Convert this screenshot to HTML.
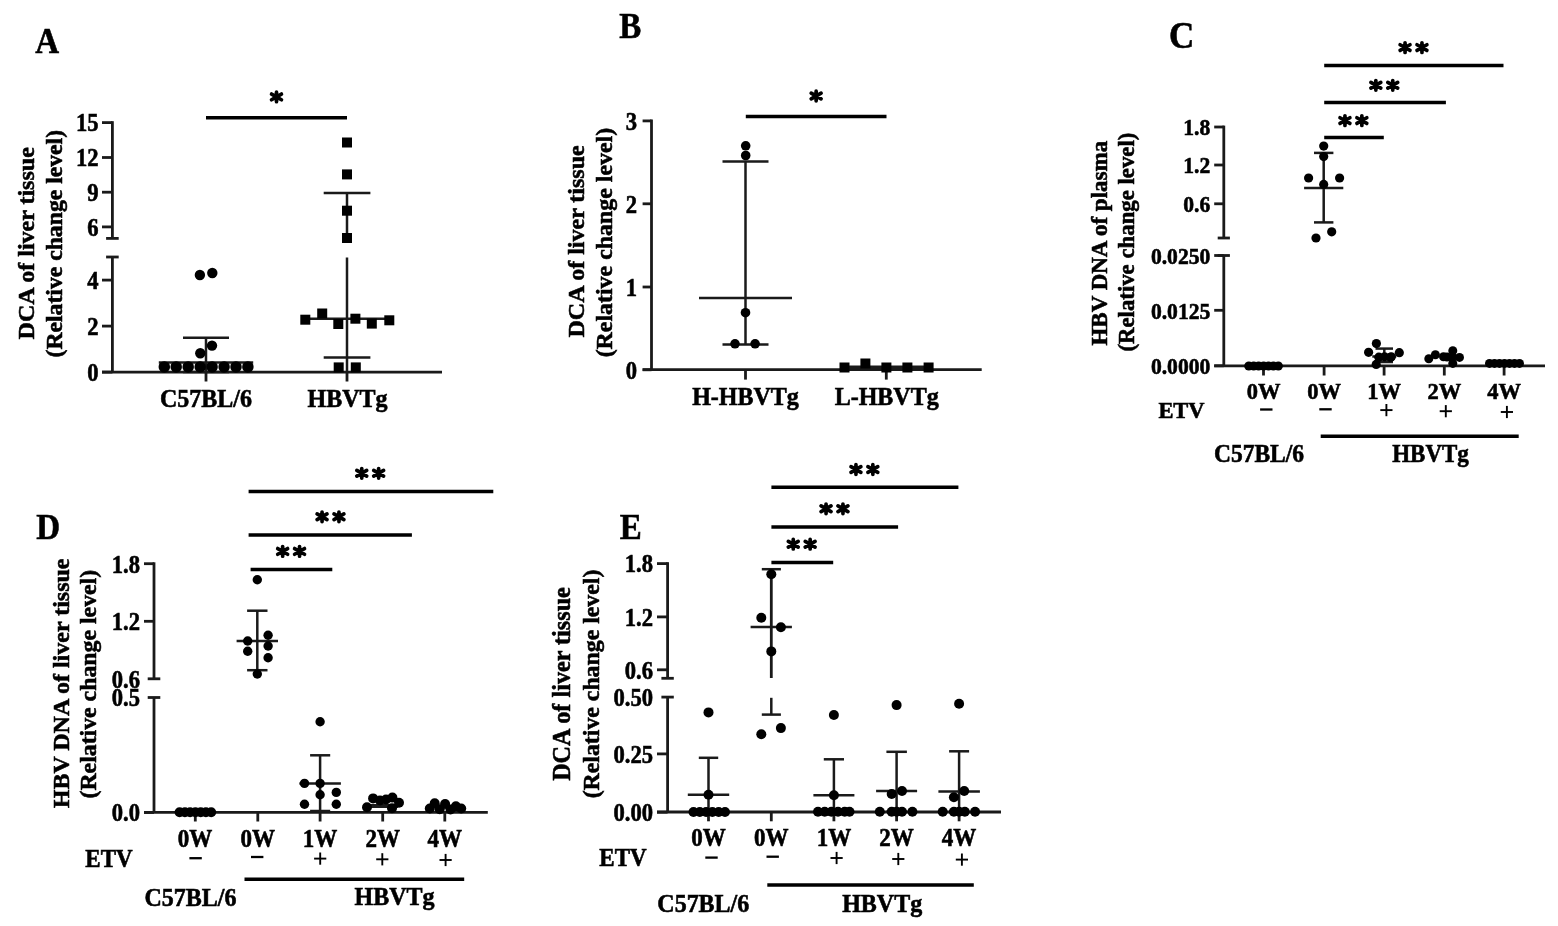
<!DOCTYPE html>
<html><head><meta charset="utf-8"><style>
html,body{margin:0;padding:0;background:#fff;}
svg{display:block;filter:blur(0.6px);}
text{font-family:"Liberation Serif",serif;font-weight:bold;fill:#000;stroke:#000;stroke-width:0.55px;}
circle,rect.s{fill:#000;}
</style></head><body>
<svg width="1558" height="926" viewBox="0 0 1558 926">
<rect x="0" y="0" width="1558" height="926" fill="#fff"/>
<text transform="translate(35.3,52.5) scale(1,1.06)" font-size="33" text-anchor="start">A</text>
<line x1="112.4" y1="121.2" x2="112.4" y2="238.4" stroke="#1a1a1a" stroke-width="2.8"/>
<line x1="112.4" y1="257.0" x2="112.4" y2="372.2" stroke="#1a1a1a" stroke-width="2.8"/>
<line x1="106.1" y1="238.4" x2="118.7" y2="238.4" stroke="#1a1a1a" stroke-width="2.8"/>
<line x1="106.1" y1="257.0" x2="118.7" y2="257.0" stroke="#1a1a1a" stroke-width="2.8"/>
<line x1="102.0" y1="122.6" x2="112.4" y2="122.6" stroke="#1a1a1a" stroke-width="2.8"/>
<text transform="translate(98.5,131.4) scale(1,1.1)" font-size="22.6" text-anchor="end">15</text>
<line x1="102.0" y1="157.5" x2="112.4" y2="157.5" stroke="#1a1a1a" stroke-width="2.8"/>
<text transform="translate(98.5,166.3) scale(1,1.1)" font-size="22.6" text-anchor="end">12</text>
<line x1="102.0" y1="192.2" x2="112.4" y2="192.2" stroke="#1a1a1a" stroke-width="2.8"/>
<text transform="translate(98.5,201.0) scale(1,1.1)" font-size="22.6" text-anchor="end">9</text>
<line x1="102.0" y1="226.9" x2="112.4" y2="226.9" stroke="#1a1a1a" stroke-width="2.8"/>
<text transform="translate(98.5,235.7) scale(1,1.1)" font-size="22.6" text-anchor="end">6</text>
<line x1="102.0" y1="280.1" x2="112.4" y2="280.1" stroke="#1a1a1a" stroke-width="2.8"/>
<text transform="translate(98.5,288.9) scale(1,1.1)" font-size="22.6" text-anchor="end">4</text>
<line x1="102.0" y1="326.1" x2="112.4" y2="326.1" stroke="#1a1a1a" stroke-width="2.8"/>
<text transform="translate(98.5,334.9) scale(1,1.1)" font-size="22.6" text-anchor="end">2</text>
<line x1="102.0" y1="372.1" x2="112.4" y2="372.1" stroke="#1a1a1a" stroke-width="2.8"/>
<text transform="translate(98.5,380.9) scale(1,1.1)" font-size="22.6" text-anchor="end">0</text>
<line x1="102.0" y1="372.1" x2="442.0" y2="372.1" stroke="#1a1a1a" stroke-width="2.8"/>
<line x1="206.0" y1="372.2" x2="206.0" y2="381.5" stroke="#1a1a1a" stroke-width="2.8"/>
<line x1="347.0" y1="372.2" x2="347.0" y2="381.5" stroke="#1a1a1a" stroke-width="2.8"/>
<text transform="translate(206.0,407.0) scale(1,1.06)" font-size="24" text-anchor="middle">C57BL/6</text>
<text transform="translate(347.6,407.0) scale(1,1.06)" font-size="24" text-anchor="middle">HBVTg</text>
<text transform="translate(34.0,243.3) rotate(-90)" font-size="24" text-anchor="middle">DCA of liver tissue</text>
<text transform="translate(62.0,243.7) rotate(-90)" font-size="23.7" text-anchor="middle">(Relative change level)</text>
<line x1="206.0" y1="117.8" x2="347.0" y2="117.8" stroke="#000" stroke-width="3.5"/>
<path d="M276.50,92.10L276.50,101.70M271.56,94.05L281.44,99.75M281.44,94.05L271.56,99.75" stroke="#000" stroke-width="3.7" stroke-linecap="round" fill="none"/>
<line x1="183.0" y1="337.8" x2="229.0" y2="337.8" stroke="#1a1a1a" stroke-width="2.5"/>
<line x1="183.0" y1="372.0" x2="229.0" y2="372.0" stroke="#1a1a1a" stroke-width="2.5"/>
<line x1="158.8" y1="362.6" x2="253.2" y2="362.6" stroke="#1a1a1a" stroke-width="2.5"/>
<line x1="206.0" y1="337.8" x2="206.0" y2="372.0" stroke="#1a1a1a" stroke-width="2.5"/>
<circle cx="199.9" cy="275.0" r="5.2"/>
<circle cx="212.3" cy="273.0" r="5.2"/>
<circle cx="212.0" cy="345.6" r="5.2"/>
<circle cx="200.3" cy="353.2" r="5.2"/>
<circle cx="164.3" cy="366.9" r="5.75"/>
<circle cx="176.2" cy="366.9" r="5.75"/>
<circle cx="188.2" cy="366.9" r="5.75"/>
<circle cx="200.2" cy="366.9" r="5.75"/>
<circle cx="212.1" cy="366.9" r="5.75"/>
<circle cx="224.1" cy="366.9" r="5.75"/>
<circle cx="236.0" cy="366.9" r="5.75"/>
<circle cx="247.9" cy="366.9" r="5.75"/>
<line x1="323.7" y1="192.9" x2="370.4" y2="192.9" stroke="#1a1a1a" stroke-width="2.5"/>
<line x1="323.7" y1="357.6" x2="370.4" y2="357.6" stroke="#1a1a1a" stroke-width="2.5"/>
<line x1="301.0" y1="318.7" x2="392.8" y2="318.7" stroke="#1a1a1a" stroke-width="2.5"/>
<line x1="347.0" y1="192.9" x2="347.0" y2="238.4" stroke="#1a1a1a" stroke-width="2.5"/>
<line x1="347.0" y1="257.5" x2="347.0" y2="372.0" stroke="#1a1a1a" stroke-width="2.5"/>
<rect class="s" x="342.0" y="137.5" width="10" height="10"/>
<rect class="s" x="342.0" y="169.4" width="10" height="10"/>
<rect class="s" x="342.0" y="205.7" width="10" height="10"/>
<rect class="s" x="342.0" y="233.0" width="10" height="10"/>
<rect class="s" x="300.3" y="314.7" width="10" height="10"/>
<rect class="s" x="317.2" y="308.5" width="10" height="10"/>
<rect class="s" x="333.3" y="319.0" width="10" height="10"/>
<rect class="s" x="350.4" y="313.7" width="10" height="10"/>
<rect class="s" x="366.8" y="318.6" width="10" height="10"/>
<rect class="s" x="384.3" y="315.3" width="10" height="10"/>
<rect class="s" x="333.7" y="362.4" width="10" height="10"/>
<rect class="s" x="350.8" y="362.4" width="10" height="10"/>
<text transform="translate(619.2,37.8) scale(1,1.06)" font-size="33" text-anchor="start">B</text>
<line x1="651.5" y1="119.5" x2="651.5" y2="369.8" stroke="#1a1a1a" stroke-width="2.8"/>
<line x1="642.6" y1="120.9" x2="651.5" y2="120.9" stroke="#1a1a1a" stroke-width="2.8"/>
<text transform="translate(637.0,129.7) scale(1,1.1)" font-size="22.6" text-anchor="end">3</text>
<line x1="642.6" y1="203.8" x2="651.5" y2="203.8" stroke="#1a1a1a" stroke-width="2.8"/>
<text transform="translate(637.0,212.6) scale(1,1.1)" font-size="22.6" text-anchor="end">2</text>
<line x1="642.6" y1="287.0" x2="651.5" y2="287.0" stroke="#1a1a1a" stroke-width="2.8"/>
<text transform="translate(637.0,295.8) scale(1,1.1)" font-size="22.6" text-anchor="end">1</text>
<line x1="642.6" y1="369.8" x2="651.5" y2="369.8" stroke="#1a1a1a" stroke-width="2.8"/>
<text transform="translate(637.0,378.6) scale(1,1.1)" font-size="22.6" text-anchor="end">0</text>
<line x1="642.6" y1="369.7" x2="981.7" y2="369.7" stroke="#1a1a1a" stroke-width="2.8"/>
<line x1="745.5" y1="369.7" x2="745.5" y2="379.6" stroke="#1a1a1a" stroke-width="2.8"/>
<line x1="886.3" y1="369.7" x2="886.3" y2="379.6" stroke="#1a1a1a" stroke-width="2.8"/>
<text transform="translate(745.5,405.0) scale(1,1.06)" font-size="24" text-anchor="middle">H-HBVTg</text>
<text transform="translate(886.7,405.0) scale(1,1.06)" font-size="24" text-anchor="middle">L-HBVTg</text>
<text transform="translate(583.7,241.4) rotate(-90)" font-size="24" text-anchor="middle">DCA of liver tissue</text>
<text transform="translate(611.6,242.6) rotate(-90)" font-size="23.9" text-anchor="middle">(Relative change level)</text>
<line x1="745.8" y1="116.5" x2="886.5" y2="116.5" stroke="#000" stroke-width="3.5"/>
<path d="M816.15,91.20L816.15,100.80M811.21,93.15L821.09,98.85M821.09,93.15L811.21,98.85" stroke="#000" stroke-width="3.7" stroke-linecap="round" fill="none"/>
<line x1="722.5" y1="161.6" x2="768.5" y2="161.6" stroke="#1a1a1a" stroke-width="2.5"/>
<line x1="722.5" y1="344.6" x2="768.5" y2="344.6" stroke="#1a1a1a" stroke-width="2.5"/>
<line x1="699.0" y1="298.0" x2="792.0" y2="298.0" stroke="#1a1a1a" stroke-width="2.5"/>
<line x1="745.5" y1="161.6" x2="745.5" y2="344.6" stroke="#1a1a1a" stroke-width="2.5"/>
<circle cx="745.7" cy="145.8" r="4.8"/>
<circle cx="745.7" cy="155.5" r="4.8"/>
<circle cx="745.5" cy="312.7" r="4.8"/>
<circle cx="735.0" cy="343.8" r="4.8"/>
<circle cx="755.1" cy="343.8" r="4.8"/>
<line x1="840.0" y1="367.6" x2="933.0" y2="367.6" stroke="#1a1a1a" stroke-width="4.2"/>
<rect class="s" x="839.5" y="362.5" width="10" height="10"/>
<rect class="s" x="860.4" y="358.5" width="10" height="10"/>
<rect class="s" x="881.4" y="362.5" width="10" height="10"/>
<rect class="s" x="902.4" y="362.5" width="10" height="10"/>
<rect class="s" x="923.6" y="362.5" width="10" height="10"/>
<text transform="translate(1169.0,48.0) scale(1,1.06)" font-size="35" text-anchor="start">C</text>
<line x1="1223.8" y1="125.6" x2="1223.8" y2="238.0" stroke="#1a1a1a" stroke-width="2.8"/>
<line x1="1223.8" y1="255.5" x2="1223.8" y2="365.8" stroke="#1a1a1a" stroke-width="2.8"/>
<line x1="1217.7" y1="238.0" x2="1229.9" y2="238.0" stroke="#1a1a1a" stroke-width="2.8"/>
<line x1="1214.2" y1="127.0" x2="1223.8" y2="127.0" stroke="#1a1a1a" stroke-width="2.8"/>
<text transform="translate(1210.3,135.3) scale(1,1.08)" font-size="21.6" text-anchor="end">1.8</text>
<line x1="1214.2" y1="165.0" x2="1223.8" y2="165.0" stroke="#1a1a1a" stroke-width="2.8"/>
<text transform="translate(1210.3,173.3) scale(1,1.08)" font-size="21.6" text-anchor="end">1.2</text>
<line x1="1214.2" y1="203.8" x2="1223.8" y2="203.8" stroke="#1a1a1a" stroke-width="2.8"/>
<text transform="translate(1210.3,212.1) scale(1,1.08)" font-size="21.6" text-anchor="end">0.6</text>
<line x1="1214.2" y1="255.5" x2="1223.8" y2="255.5" stroke="#1a1a1a" stroke-width="2.8"/>
<text transform="translate(1210.3,263.8) scale(1,1.08)" font-size="21.6" text-anchor="end">0.0250</text>
<line x1="1214.2" y1="310.3" x2="1223.8" y2="310.3" stroke="#1a1a1a" stroke-width="2.8"/>
<text transform="translate(1210.3,318.6) scale(1,1.08)" font-size="21.6" text-anchor="end">0.0125</text>
<line x1="1214.2" y1="365.8" x2="1223.8" y2="365.8" stroke="#1a1a1a" stroke-width="2.8"/>
<text transform="translate(1210.3,374.1) scale(1,1.08)" font-size="21.6" text-anchor="end">0.0000</text>
<line x1="1217.7" y1="255.5" x2="1229.9" y2="255.5" stroke="#1a1a1a" stroke-width="2.8"/>
<line x1="1214.2" y1="365.8" x2="1545.0" y2="365.8" stroke="#1a1a1a" stroke-width="2.8"/>
<line x1="1263.5" y1="365.8" x2="1263.5" y2="375.5" stroke="#1a1a1a" stroke-width="2.8"/>
<line x1="1324.1" y1="365.8" x2="1324.1" y2="375.5" stroke="#1a1a1a" stroke-width="2.8"/>
<line x1="1384.1" y1="365.8" x2="1384.1" y2="375.5" stroke="#1a1a1a" stroke-width="2.8"/>
<line x1="1444.3" y1="365.8" x2="1444.3" y2="375.5" stroke="#1a1a1a" stroke-width="2.8"/>
<line x1="1504.1" y1="365.8" x2="1504.1" y2="375.5" stroke="#1a1a1a" stroke-width="2.8"/>
<text transform="translate(1263.5,398.8) scale(1,1.06)" font-size="22.5" text-anchor="middle">0W</text>
<text transform="translate(1324.1,398.8) scale(1,1.06)" font-size="22.5" text-anchor="middle">0W</text>
<text transform="translate(1384.1,398.8) scale(1,1.06)" font-size="22.5" text-anchor="middle">1W</text>
<text transform="translate(1444.3,398.8) scale(1,1.06)" font-size="22.5" text-anchor="middle">2W</text>
<text transform="translate(1504.1,398.8) scale(1,1.06)" font-size="22.5" text-anchor="middle">4W</text>
<text transform="translate(1181.5,418.3) scale(1,1.06)" font-size="22.5" text-anchor="middle">ETV</text>
<line x1="1260.1" y1="409.5" x2="1272.5" y2="409.5" stroke="#000" stroke-width="2.3"/>
<line x1="1319.3" y1="409.3" x2="1331.7" y2="409.3" stroke="#000" stroke-width="2.3"/>
<line x1="1380.3" y1="410.1" x2="1392.5" y2="410.1" stroke="#000" stroke-width="1.9"/>
<line x1="1386.4" y1="404.0" x2="1386.4" y2="416.2" stroke="#000" stroke-width="1.9"/>
<line x1="1439.7" y1="411.2" x2="1451.9" y2="411.2" stroke="#000" stroke-width="1.9"/>
<line x1="1445.8" y1="405.1" x2="1445.8" y2="417.3" stroke="#000" stroke-width="1.9"/>
<line x1="1500.8" y1="412.0" x2="1513.0" y2="412.0" stroke="#000" stroke-width="1.9"/>
<line x1="1506.9" y1="405.9" x2="1506.9" y2="418.1" stroke="#000" stroke-width="1.9"/>
<line x1="1320.7" y1="436.2" x2="1518.7" y2="436.2" stroke="#000" stroke-width="3.5"/>
<text transform="translate(1259.0,462.4) scale(1,1.06)" font-size="23.5" text-anchor="middle">C57BL/6</text>
<text transform="translate(1430.5,462.2) scale(1,1.06)" font-size="23" text-anchor="middle">HBVTg</text>
<text transform="translate(1107.0,243.2) rotate(-90)" font-size="23" text-anchor="middle">HBV DNA of plasma</text>
<text transform="translate(1134.0,242.1) rotate(-90)" font-size="22.8" text-anchor="middle">(Relative change level)</text>
<line x1="1324.2" y1="65.6" x2="1503.5" y2="65.6" stroke="#000" stroke-width="3.5"/>
<path d="M1405.05,42.80L1405.05,52.40M1400.11,44.75L1409.99,50.45M1409.99,44.75L1400.11,50.45" stroke="#000" stroke-width="3.7" stroke-linecap="round" fill="none"/>
<path d="M1421.95,42.80L1421.95,52.40M1417.01,44.75L1426.89,50.45M1426.89,44.75L1417.01,50.45" stroke="#000" stroke-width="3.7" stroke-linecap="round" fill="none"/>
<line x1="1324.2" y1="102.4" x2="1445.9" y2="102.4" stroke="#000" stroke-width="3.5"/>
<path d="M1375.85,80.50L1375.85,90.10M1370.91,82.45L1380.79,88.15M1380.79,82.45L1370.91,88.15" stroke="#000" stroke-width="3.7" stroke-linecap="round" fill="none"/>
<path d="M1392.75,80.50L1392.75,90.10M1387.81,82.45L1397.69,88.15M1397.69,82.45L1387.81,88.15" stroke="#000" stroke-width="3.7" stroke-linecap="round" fill="none"/>
<line x1="1324.2" y1="137.5" x2="1383.8" y2="137.5" stroke="#000" stroke-width="3.5"/>
<path d="M1344.95,115.80L1344.95,125.40M1340.01,117.75L1349.89,123.45M1349.89,117.75L1340.01,123.45" stroke="#000" stroke-width="3.7" stroke-linecap="round" fill="none"/>
<path d="M1361.85,115.80L1361.85,125.40M1356.91,117.75L1366.79,123.45M1366.79,117.75L1356.91,123.45" stroke="#000" stroke-width="3.7" stroke-linecap="round" fill="none"/>
<circle cx="1248.8" cy="366.0" r="4.6"/>
<circle cx="1253.7" cy="366.0" r="4.6"/>
<circle cx="1258.6" cy="366.0" r="4.6"/>
<circle cx="1263.6" cy="366.0" r="4.6"/>
<circle cx="1268.5" cy="366.0" r="4.6"/>
<circle cx="1273.4" cy="366.0" r="4.6"/>
<circle cx="1278.3" cy="366.0" r="4.6"/>
<line x1="1314.0" y1="152.9" x2="1333.4" y2="152.9" stroke="#1a1a1a" stroke-width="2.5"/>
<line x1="1314.0" y1="222.4" x2="1333.4" y2="222.4" stroke="#1a1a1a" stroke-width="2.5"/>
<line x1="1304.1" y1="187.9" x2="1343.3" y2="187.9" stroke="#1a1a1a" stroke-width="2.5"/>
<line x1="1323.7" y1="152.9" x2="1323.7" y2="222.4" stroke="#1a1a1a" stroke-width="2.5"/>
<circle cx="1323.7" cy="146.1" r="4.6"/>
<circle cx="1323.7" cy="156.6" r="4.6"/>
<circle cx="1308.6" cy="178.0" r="4.6"/>
<circle cx="1339.6" cy="178.0" r="4.6"/>
<circle cx="1323.7" cy="184.4" r="4.6"/>
<circle cx="1316.0" cy="238.0" r="4.6"/>
<circle cx="1331.7" cy="231.8" r="4.6"/>
<line x1="1375.5" y1="348.6" x2="1393.0" y2="348.6" stroke="#1a1a1a" stroke-width="2.5"/>
<line x1="1375.5" y1="362.0" x2="1393.0" y2="362.0" stroke="#1a1a1a" stroke-width="2.5"/>
<line x1="1372.3" y1="356.5" x2="1396.3" y2="356.5" stroke="#1a1a1a" stroke-width="2.5"/>
<line x1="1384.3" y1="348.6" x2="1384.3" y2="362.0" stroke="#1a1a1a" stroke-width="2.5"/>
<circle cx="1376.4" cy="343.6" r="4.6"/>
<circle cx="1368.6" cy="352.3" r="4.6"/>
<circle cx="1399.3" cy="352.7" r="4.6"/>
<circle cx="1376.2" cy="364.4" r="4.6"/>
<circle cx="1378.8" cy="357.2" r="4.6"/>
<circle cx="1384.5" cy="356.8" r="4.6"/>
<circle cx="1390.5" cy="357.4" r="4.6"/>
<circle cx="1391.3" cy="356.8" r="4.6"/>
<circle cx="1428.8" cy="358.7" r="4.5"/>
<circle cx="1435.4" cy="354.7" r="4.5"/>
<circle cx="1443.5" cy="356.7" r="4.5"/>
<circle cx="1452.8" cy="350.7" r="4.5"/>
<circle cx="1459.5" cy="357.4" r="4.5"/>
<circle cx="1452.8" cy="363.4" r="4.5"/>
<circle cx="1447.0" cy="357.0" r="4.5"/>
<circle cx="1452.5" cy="357.0" r="4.5"/>
<circle cx="1489.5" cy="363.4" r="4.5"/>
<circle cx="1494.5" cy="363.4" r="4.5"/>
<circle cx="1499.5" cy="363.4" r="4.5"/>
<circle cx="1504.5" cy="363.4" r="4.5"/>
<circle cx="1509.5" cy="363.4" r="4.5"/>
<circle cx="1514.5" cy="363.4" r="4.5"/>
<circle cx="1519.5" cy="363.4" r="4.5"/>
<text transform="translate(36.2,538.8) scale(1,1.06)" font-size="33" text-anchor="start">D</text>
<line x1="154.0" y1="562.3" x2="154.0" y2="678.8" stroke="#1a1a1a" stroke-width="2.8"/>
<line x1="154.0" y1="697.5" x2="154.0" y2="812.5" stroke="#1a1a1a" stroke-width="2.8"/>
<line x1="147.7" y1="678.8" x2="160.3" y2="678.8" stroke="#1a1a1a" stroke-width="2.8"/>
<line x1="147.7" y1="697.5" x2="160.3" y2="697.5" stroke="#1a1a1a" stroke-width="2.8"/>
<line x1="144.0" y1="563.7" x2="154.0" y2="563.7" stroke="#1a1a1a" stroke-width="2.8"/>
<text transform="translate(140.0,572.5) scale(1,1.1)" font-size="22.6" text-anchor="end">1.8</text>
<line x1="144.0" y1="621.3" x2="154.0" y2="621.3" stroke="#1a1a1a" stroke-width="2.8"/>
<text transform="translate(140.0,630.1) scale(1,1.1)" font-size="22.6" text-anchor="end">1.2</text>
<text transform="translate(140.0,687.6) scale(1,1.1)" font-size="22.6" text-anchor="end">0.6</text>
<text transform="translate(140.0,706.3) scale(1,1.1)" font-size="22.6" text-anchor="end">0.5</text>
<line x1="144.0" y1="812.5" x2="154.0" y2="812.5" stroke="#1a1a1a" stroke-width="2.8"/>
<text transform="translate(140.0,821.3) scale(1,1.1)" font-size="22.6" text-anchor="end">0.0</text>
<line x1="144.0" y1="812.3" x2="487.8" y2="812.3" stroke="#1a1a1a" stroke-width="2.8"/>
<line x1="195.3" y1="812.3" x2="195.3" y2="821.5" stroke="#1a1a1a" stroke-width="2.8"/>
<line x1="257.8" y1="812.3" x2="257.8" y2="821.5" stroke="#1a1a1a" stroke-width="2.8"/>
<line x1="320.1" y1="812.3" x2="320.1" y2="821.5" stroke="#1a1a1a" stroke-width="2.8"/>
<line x1="382.7" y1="812.3" x2="382.7" y2="821.5" stroke="#1a1a1a" stroke-width="2.8"/>
<line x1="444.8" y1="812.3" x2="444.8" y2="821.5" stroke="#1a1a1a" stroke-width="2.8"/>
<text transform="translate(195.0,847.0) scale(1,1.06)" font-size="23" text-anchor="middle">0W</text>
<text transform="translate(257.8,847.0) scale(1,1.06)" font-size="23" text-anchor="middle">0W</text>
<text transform="translate(320.1,847.0) scale(1,1.06)" font-size="23" text-anchor="middle">1W</text>
<text transform="translate(382.7,847.0) scale(1,1.06)" font-size="23" text-anchor="middle">2W</text>
<text transform="translate(444.8,847.0) scale(1,1.06)" font-size="23" text-anchor="middle">4W</text>
<text transform="translate(109.0,867.2) scale(1,1.06)" font-size="23" text-anchor="middle">ETV</text>
<line x1="189.4" y1="858.2" x2="201.8" y2="858.2" stroke="#000" stroke-width="2.3"/>
<line x1="251.0" y1="857.0" x2="263.4" y2="857.0" stroke="#000" stroke-width="2.3"/>
<line x1="314.1" y1="858.6" x2="326.3" y2="858.6" stroke="#000" stroke-width="1.9"/>
<line x1="320.2" y1="852.5" x2="320.2" y2="864.7" stroke="#000" stroke-width="1.9"/>
<line x1="376.2" y1="859.3" x2="388.4" y2="859.3" stroke="#000" stroke-width="1.9"/>
<line x1="382.3" y1="853.2" x2="382.3" y2="865.4" stroke="#000" stroke-width="1.9"/>
<line x1="439.5" y1="860.0" x2="451.7" y2="860.0" stroke="#000" stroke-width="1.9"/>
<line x1="445.6" y1="853.9" x2="445.6" y2="866.1" stroke="#000" stroke-width="1.9"/>
<line x1="244.5" y1="879.2" x2="464.2" y2="879.2" stroke="#000" stroke-width="3.5"/>
<text transform="translate(190.5,905.7) scale(1,1.06)" font-size="24" text-anchor="middle">C57BL/6</text>
<text transform="translate(394.5,905.0) scale(1,1.06)" font-size="24" text-anchor="middle">HBVTg</text>
<text transform="translate(68.6,683.4) rotate(-90)" font-size="24" text-anchor="middle">HBV DNA of liver tissue</text>
<text transform="translate(96.2,684.2) rotate(-90)" font-size="23.8" text-anchor="middle">(Relative change level)</text>
<line x1="248.6" y1="491.4" x2="493.3" y2="491.4" stroke="#000" stroke-width="3.5"/>
<path d="M361.75,468.50L361.75,478.10M356.81,470.45L366.69,476.15M366.69,470.45L356.81,476.15" stroke="#000" stroke-width="3.7" stroke-linecap="round" fill="none"/>
<path d="M378.65,468.50L378.65,478.10M373.71,470.45L383.59,476.15M383.59,470.45L373.71,476.15" stroke="#000" stroke-width="3.7" stroke-linecap="round" fill="none"/>
<line x1="248.6" y1="534.9" x2="411.9" y2="534.9" stroke="#000" stroke-width="3.5"/>
<path d="M322.05,512.00L322.05,521.60M317.11,513.95L326.99,519.65M326.99,513.95L317.11,519.65" stroke="#000" stroke-width="3.7" stroke-linecap="round" fill="none"/>
<path d="M338.95,512.00L338.95,521.60M334.01,513.95L343.89,519.65M343.89,513.95L334.01,519.65" stroke="#000" stroke-width="3.7" stroke-linecap="round" fill="none"/>
<line x1="250.6" y1="569.6" x2="332.3" y2="569.6" stroke="#000" stroke-width="3.5"/>
<path d="M282.65,546.60L282.65,556.20M277.71,548.55L287.59,554.25M287.59,548.55L277.71,554.25" stroke="#000" stroke-width="3.7" stroke-linecap="round" fill="none"/>
<path d="M299.55,546.60L299.55,556.20M294.61,548.55L304.49,554.25M304.49,548.55L294.61,554.25" stroke="#000" stroke-width="3.7" stroke-linecap="round" fill="none"/>
<circle cx="179.6" cy="812.2" r="5.0"/>
<circle cx="184.9" cy="812.2" r="5.0"/>
<circle cx="190.1" cy="812.2" r="5.0"/>
<circle cx="195.4" cy="812.2" r="5.0"/>
<circle cx="200.7" cy="812.2" r="5.0"/>
<circle cx="205.9" cy="812.2" r="5.0"/>
<circle cx="211.2" cy="812.2" r="5.0"/>
<line x1="247.1" y1="610.7" x2="267.5" y2="610.7" stroke="#1a1a1a" stroke-width="2.5"/>
<line x1="247.1" y1="670.2" x2="267.5" y2="670.2" stroke="#1a1a1a" stroke-width="2.5"/>
<line x1="236.6" y1="641.0" x2="278.0" y2="641.0" stroke="#1a1a1a" stroke-width="2.5"/>
<line x1="257.3" y1="610.7" x2="257.3" y2="670.2" stroke="#1a1a1a" stroke-width="2.5"/>
<circle cx="257.3" cy="579.8" r="4.7"/>
<circle cx="247.7" cy="641.0" r="4.7"/>
<circle cx="247.7" cy="651.2" r="4.7"/>
<circle cx="268.1" cy="635.2" r="4.7"/>
<circle cx="268.1" cy="646.0" r="4.7"/>
<circle cx="268.1" cy="657.7" r="4.7"/>
<circle cx="257.3" cy="674.0" r="4.7"/>
<line x1="310.1" y1="755.3" x2="330.2" y2="755.3" stroke="#1a1a1a" stroke-width="2.5"/>
<line x1="310.1" y1="811.0" x2="330.2" y2="811.0" stroke="#1a1a1a" stroke-width="2.5"/>
<line x1="299.4" y1="783.4" x2="340.9" y2="783.4" stroke="#1a1a1a" stroke-width="2.5"/>
<line x1="320.1" y1="755.3" x2="320.1" y2="811.0" stroke="#1a1a1a" stroke-width="2.5"/>
<circle cx="320.1" cy="721.8" r="4.7"/>
<circle cx="304.5" cy="783.4" r="4.7"/>
<circle cx="320.1" cy="783.4" r="4.7"/>
<circle cx="320.1" cy="794.8" r="4.7"/>
<circle cx="336.3" cy="792.4" r="4.7"/>
<circle cx="304.5" cy="804.3" r="4.7"/>
<circle cx="336.3" cy="804.3" r="4.7"/>
<line x1="366.0" y1="806.0" x2="398.0" y2="806.0" stroke="#1a1a1a" stroke-width="4"/>
<circle cx="367.0" cy="807.3" r="5"/>
<circle cx="373.1" cy="798.4" r="5"/>
<circle cx="380.0" cy="800.5" r="5"/>
<circle cx="386.0" cy="799.5" r="5"/>
<circle cx="392.4" cy="797.6" r="5"/>
<circle cx="399.0" cy="802.7" r="5"/>
<circle cx="392.0" cy="808.3" r="5"/>
<circle cx="434.7" cy="803.3" r="5"/>
<circle cx="445.1" cy="804.0" r="5"/>
<circle cx="455.9" cy="806.2" r="5"/>
<circle cx="461.2" cy="808.5" r="5"/>
<circle cx="429.8" cy="808.5" r="5"/>
<circle cx="439.7" cy="809.3" r="5"/>
<circle cx="450.5" cy="809.5" r="5"/>
<text transform="translate(619.7,539.1) scale(1,1.06)" font-size="33" text-anchor="start">E</text>
<line x1="667.6" y1="562.2" x2="667.6" y2="678.3" stroke="#1a1a1a" stroke-width="2.8"/>
<line x1="667.6" y1="697.1" x2="667.6" y2="812.2" stroke="#1a1a1a" stroke-width="2.8"/>
<line x1="661.4" y1="678.3" x2="673.8" y2="678.3" stroke="#1a1a1a" stroke-width="2.8"/>
<line x1="661.4" y1="697.1" x2="673.8" y2="697.1" stroke="#1a1a1a" stroke-width="2.8"/>
<line x1="657.0" y1="563.6" x2="667.6" y2="563.6" stroke="#1a1a1a" stroke-width="2.8"/>
<text transform="translate(653.0,572.4) scale(1,1.1)" font-size="22.6" text-anchor="end">1.8</text>
<line x1="657.0" y1="616.9" x2="667.6" y2="616.9" stroke="#1a1a1a" stroke-width="2.8"/>
<text transform="translate(653.0,625.7) scale(1,1.1)" font-size="22.6" text-anchor="end">1.2</text>
<line x1="657.0" y1="669.8" x2="667.6" y2="669.8" stroke="#1a1a1a" stroke-width="2.8"/>
<text transform="translate(653.0,678.6) scale(1,1.1)" font-size="22.6" text-anchor="end">0.6</text>
<text transform="translate(653.0,705.9) scale(1,1.1)" font-size="22.6" text-anchor="end">0.50</text>
<line x1="657.0" y1="753.9" x2="667.6" y2="753.9" stroke="#1a1a1a" stroke-width="2.8"/>
<text transform="translate(653.0,762.7) scale(1,1.1)" font-size="22.6" text-anchor="end">0.25</text>
<line x1="657.0" y1="812.2" x2="667.6" y2="812.2" stroke="#1a1a1a" stroke-width="2.8"/>
<text transform="translate(653.0,821.0) scale(1,1.1)" font-size="22.6" text-anchor="end">0.00</text>
<line x1="657.0" y1="812.0" x2="1001.0" y2="812.0" stroke="#1a1a1a" stroke-width="2.8"/>
<line x1="708.5" y1="812.0" x2="708.5" y2="821.3" stroke="#1a1a1a" stroke-width="2.8"/>
<line x1="771.3" y1="812.0" x2="771.3" y2="821.3" stroke="#1a1a1a" stroke-width="2.8"/>
<line x1="833.9" y1="812.0" x2="833.9" y2="821.3" stroke="#1a1a1a" stroke-width="2.8"/>
<line x1="896.6" y1="812.0" x2="896.6" y2="821.3" stroke="#1a1a1a" stroke-width="2.8"/>
<line x1="959.1" y1="812.0" x2="959.1" y2="821.3" stroke="#1a1a1a" stroke-width="2.8"/>
<text transform="translate(708.5,845.7) scale(1,1.06)" font-size="23" text-anchor="middle">0W</text>
<text transform="translate(771.3,845.7) scale(1,1.06)" font-size="23" text-anchor="middle">0W</text>
<text transform="translate(833.9,845.7) scale(1,1.06)" font-size="23" text-anchor="middle">1W</text>
<text transform="translate(896.6,845.7) scale(1,1.06)" font-size="23" text-anchor="middle">2W</text>
<text transform="translate(959.1,845.7) scale(1,1.06)" font-size="23" text-anchor="middle">4W</text>
<text transform="translate(623.0,866.1) scale(1,1.06)" font-size="23" text-anchor="middle">ETV</text>
<line x1="705.3" y1="857.6" x2="717.7" y2="857.6" stroke="#000" stroke-width="2.3"/>
<line x1="766.5" y1="856.7" x2="778.9" y2="856.7" stroke="#000" stroke-width="2.3"/>
<line x1="830.5" y1="858.0" x2="842.7" y2="858.0" stroke="#000" stroke-width="1.9"/>
<line x1="836.6" y1="851.9" x2="836.6" y2="864.1" stroke="#000" stroke-width="1.9"/>
<line x1="892.2" y1="859.0" x2="904.4" y2="859.0" stroke="#000" stroke-width="1.9"/>
<line x1="898.3" y1="852.9" x2="898.3" y2="865.1" stroke="#000" stroke-width="1.9"/>
<line x1="955.8" y1="859.6" x2="968.0" y2="859.6" stroke="#000" stroke-width="1.9"/>
<line x1="961.9" y1="853.5" x2="961.9" y2="865.7" stroke="#000" stroke-width="1.9"/>
<line x1="767.3" y1="885.0" x2="973.8" y2="885.0" stroke="#000" stroke-width="3.5"/>
<text transform="translate(703.3,911.5) scale(1,1.06)" font-size="24" text-anchor="middle">C57BL/6</text>
<text transform="translate(882.2,911.5) scale(1,1.06)" font-size="24" text-anchor="middle">HBVTg</text>
<text transform="translate(569.8,684.0) rotate(-90)" font-size="24.2" text-anchor="middle">DCA of liver tissue</text>
<text transform="translate(599.0,684.0) rotate(-90)" font-size="23.8" text-anchor="middle">(Relative change level)</text>
<line x1="771.4" y1="487.2" x2="958.4" y2="487.2" stroke="#000" stroke-width="3.5"/>
<path d="M855.95,464.70L855.95,474.30M851.01,466.65L860.89,472.35M860.89,466.65L851.01,472.35" stroke="#000" stroke-width="3.7" stroke-linecap="round" fill="none"/>
<path d="M872.85,464.70L872.85,474.30M867.91,466.65L877.79,472.35M877.79,466.65L867.91,472.35" stroke="#000" stroke-width="3.7" stroke-linecap="round" fill="none"/>
<line x1="771.4" y1="527.0" x2="898.1" y2="527.0" stroke="#000" stroke-width="3.5"/>
<path d="M826.05,504.00L826.05,513.60M821.11,505.95L830.99,511.65M830.99,505.95L821.11,511.65" stroke="#000" stroke-width="3.7" stroke-linecap="round" fill="none"/>
<path d="M842.95,504.00L842.95,513.60M838.01,505.95L847.89,511.65M847.89,505.95L838.01,511.65" stroke="#000" stroke-width="3.7" stroke-linecap="round" fill="none"/>
<line x1="771.4" y1="562.4" x2="833.2" y2="562.4" stroke="#000" stroke-width="3.5"/>
<path d="M793.25,539.40L793.25,549.00M788.31,541.35L798.19,547.05M798.19,541.35L788.31,547.05" stroke="#000" stroke-width="3.7" stroke-linecap="round" fill="none"/>
<path d="M810.15,539.40L810.15,549.00M805.21,541.35L815.09,547.05M815.09,541.35L805.21,547.05" stroke="#000" stroke-width="3.7" stroke-linecap="round" fill="none"/>
<line x1="698.8" y1="757.8" x2="718.2" y2="757.8" stroke="#1a1a1a" stroke-width="2.5"/>
<line x1="698.8" y1="812.0" x2="718.2" y2="812.0" stroke="#1a1a1a" stroke-width="2.5"/>
<line x1="687.8" y1="794.8" x2="729.2" y2="794.8" stroke="#1a1a1a" stroke-width="2.5"/>
<line x1="708.5" y1="757.8" x2="708.5" y2="812.0" stroke="#1a1a1a" stroke-width="2.5"/>
<circle cx="708.5" cy="712.4" r="5.0"/>
<circle cx="708.5" cy="794.8" r="5.0"/>
<circle cx="693.5" cy="812.0" r="5.0"/>
<circle cx="699.8" cy="812.0" r="5.0"/>
<circle cx="706.1" cy="812.0" r="5.0"/>
<circle cx="712.4" cy="812.0" r="5.0"/>
<circle cx="718.7" cy="812.0" r="5.0"/>
<circle cx="725.0" cy="812.0" r="5.0"/>
<line x1="761.8" y1="569.2" x2="780.9" y2="569.2" stroke="#1a1a1a" stroke-width="2.5"/>
<line x1="761.8" y1="714.6" x2="780.9" y2="714.6" stroke="#1a1a1a" stroke-width="2.5"/>
<line x1="750.6" y1="627.0" x2="791.9" y2="627.0" stroke="#1a1a1a" stroke-width="2.5"/>
<line x1="771.3" y1="569.2" x2="771.3" y2="678.0" stroke="#1a1a1a" stroke-width="2.8"/>
<line x1="771.3" y1="697.8" x2="771.3" y2="714.6" stroke="#1a1a1a" stroke-width="2.5"/>
<circle cx="771.3" cy="574.2" r="5.0"/>
<circle cx="761.3" cy="617.8" r="5.0"/>
<circle cx="780.9" cy="627.3" r="5.0"/>
<circle cx="771.3" cy="651.4" r="5.0"/>
<circle cx="761.3" cy="734.3" r="5.0"/>
<circle cx="780.9" cy="728.1" r="5.0"/>
<line x1="823.8" y1="759.3" x2="844.0" y2="759.3" stroke="#1a1a1a" stroke-width="2.5"/>
<line x1="823.8" y1="811.7" x2="844.0" y2="811.7" stroke="#1a1a1a" stroke-width="2.5"/>
<line x1="813.4" y1="795.3" x2="854.4" y2="795.3" stroke="#1a1a1a" stroke-width="2.5"/>
<line x1="833.9" y1="759.3" x2="833.9" y2="811.7" stroke="#1a1a1a" stroke-width="2.5"/>
<circle cx="833.9" cy="715.0" r="5.0"/>
<circle cx="833.9" cy="795.3" r="5.0"/>
<circle cx="818.0" cy="811.7" r="5.0"/>
<circle cx="824.7" cy="811.7" r="5.0"/>
<circle cx="831.4" cy="811.7" r="5.0"/>
<circle cx="838.0" cy="811.7" r="5.0"/>
<circle cx="844.7" cy="811.7" r="5.0"/>
<circle cx="849.5" cy="811.7" r="5.0"/>
<line x1="886.4" y1="751.8" x2="906.9" y2="751.8" stroke="#1a1a1a" stroke-width="2.5"/>
<line x1="886.4" y1="811.7" x2="906.9" y2="811.7" stroke="#1a1a1a" stroke-width="2.5"/>
<line x1="876.1" y1="790.9" x2="917.1" y2="790.9" stroke="#1a1a1a" stroke-width="2.5"/>
<line x1="896.6" y1="751.8" x2="896.6" y2="811.7" stroke="#1a1a1a" stroke-width="2.5"/>
<circle cx="896.6" cy="705.1" r="5.0"/>
<circle cx="891.7" cy="794.0" r="5.0"/>
<circle cx="902.0" cy="791.0" r="5.0"/>
<circle cx="879.8" cy="811.7" r="5.0"/>
<circle cx="891.7" cy="811.7" r="5.0"/>
<circle cx="902.0" cy="811.7" r="5.0"/>
<circle cx="912.4" cy="811.7" r="5.0"/>
<circle cx="896.6" cy="811.7" r="5.0"/>
<line x1="949.1" y1="751.3" x2="969.1" y2="751.3" stroke="#1a1a1a" stroke-width="2.5"/>
<line x1="949.1" y1="811.7" x2="969.1" y2="811.7" stroke="#1a1a1a" stroke-width="2.5"/>
<line x1="938.4" y1="791.5" x2="979.9" y2="791.5" stroke="#1a1a1a" stroke-width="2.5"/>
<line x1="959.1" y1="751.3" x2="959.1" y2="811.7" stroke="#1a1a1a" stroke-width="2.5"/>
<circle cx="959.1" cy="703.8" r="5.0"/>
<circle cx="953.9" cy="797.2" r="5.0"/>
<circle cx="964.2" cy="791.0" r="5.0"/>
<circle cx="942.7" cy="811.7" r="5.0"/>
<circle cx="953.9" cy="811.7" r="5.0"/>
<circle cx="964.8" cy="811.7" r="5.0"/>
<circle cx="975.1" cy="811.7" r="5.0"/>
<circle cx="959.1" cy="811.7" r="5.0"/>
</svg>
</body></html>
